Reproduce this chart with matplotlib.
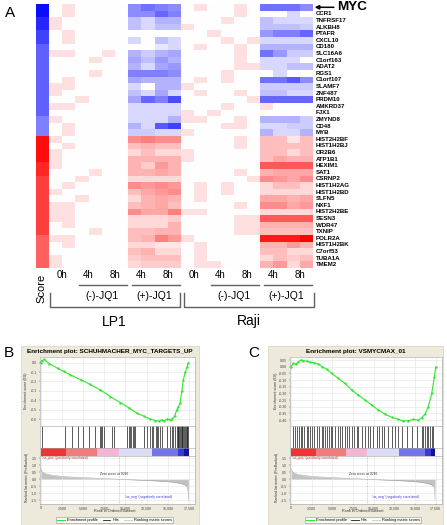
import numpy as np
import matplotlib
matplotlib.use("Agg")
import matplotlib.pyplot as plt
from matplotlib.colors import LinearSegmentedColormap
from matplotlib.transforms import blended_transform_factory
from matplotlib.lines import Line2D
from matplotlib.patches import Rectangle

plt.rcParams['font.family'] = ['Liberation Sans', 'DejaVu Sans']

# ---------------- data: panel A heatmap ----------------
genes = ["MYC", "CCR1", "TNFRSF17", "ALKBH8", "PTAFR", "CXCL10", "CD180", "SLC16A6",
         "C1orf163", "ADAT2", "RGS1", "C1orf107", "SLAMF7", "ZNF487", "PRDM10", "AMKRD37",
         "FJX1", "ZMYND8", "CD48", "MYB",
         "HIST2H2BF", "HIST1H2BJ", "OR2B6", "ATP1B1", "HEXIM1", "SAT1", "CSRNP2",
         "HIST1H2AG", "HIST1H2BD", "SLFN5", "NXF1", "HIST2H2BE", "SESN3", "WDR47",
         "TXNIP", "POLR2A", "HIST1H2BK", "C7orf53", "TUBA1A", "TMEM2"]

score = [-95, -95, -85, -85, -75, -75, -62, -62, -62, -62, -62, -62, -62, -62, -62, -62, -62, -50, -50, -50,
         95, 95, 95, 95, 85, 85, 75, 75, 75, 75, 75, 75, 75, 75, 75, 62, 62, 62, 62, 62]

# columns: 0h 0h | (-)4h 4h | (-)8h 8h | (+)4h 4h | (+)8h 8h
lp1 = [
    [0, 12, 0, 0, 0, 0, -45, -55, -50, -45],
    [0, 12, 0, 0, 0, 0, -45, -45, -60, -50],
    [12, 0, 0, 0, 0, 0, -25, -15, -30, -30],
    [12, 0, 0, 0, 0, 0, -25, -15, -25, -25],
    [0, 12, 0, 0, 0, 0, 0, 0, 0, 0],
    [0, 12, 0, 0, 0, 0, -15, 0, -25, -15],
    [0, 0, 0, 0, 0, 0, 0, 0, -10, -15],
    [12, 12, 0, 0, 12, 0, -30, -20, -30, -35],
    [0, 0, 0, 12, 0, 0, -35, -25, -40, -30],
    [0, 0, 0, 0, 0, 0, -30, -15, -35, -40],
    [0, 0, 0, 12, 0, 0, -50, -50, -50, -45],
    [0, 12, 0, 0, 0, 0, -35, -30, -30, -30],
    [12, 12, 0, 0, 0, 0, -15, 0, -30, -30],
    [12, 0, 0, 0, 0, 0, -25, -15, -35, -15],
    [0, 0, 12, 0, 0, 0, -35, -60, -50, -70],
    [12, 12, 0, 0, 0, 0, -15, -15, -15, -15],
    [0, 0, 0, 0, 0, 0, -15, -15, -15, -15],
    [12, 0, 0, 0, 0, 0, -15, -15, -15, -30],
    [0, 12, 0, 0, 0, 0, -30, -15, -65, -75],
    [0, 12, 0, 0, 0, 0, -20, -20, -15, -15],
    [12, 0, 0, 0, 0, 0, 45, 50, 45, 45],
    [0, 12, 0, 0, 0, 0, 25, 30, 25, 25],
    [12, 0, 0, 0, 0, 0, 15, 25, 15, 15],
    [12, 0, 0, 0, 0, 0, 30, 30, 30, 30],
    [12, 0, 0, 0, 0, 0, 30, 20, 40, 30],
    [0, 0, 0, 12, 0, 0, 30, 30, 35, 30],
    [0, 0, 12, 0, 0, 0, 15, 15, 15, 15],
    [0, 12, 0, 0, 0, 0, 45, 40, 45, 40],
    [12, 0, 0, 0, 0, 0, 25, 35, 40, 45],
    [0, 0, 12, 0, 0, 0, 15, 30, 35, 30],
    [12, 12, 0, 0, 0, 0, 25, 30, 35, 25],
    [12, 12, 0, 0, 0, 0, 45, 35, 35, 50],
    [12, 12, 0, 0, 0, 0, 15, 15, 15, 20],
    [0, 12, 0, 0, 0, 0, 15, 15, 15, 30],
    [0, 0, 0, 12, 0, 0, 25, 25, 30, 30],
    [12, 12, 0, 0, 0, 0, 25, 30, 50, 40],
    [0, 12, 0, 0, 0, 0, 15, 15, 10, 10],
    [0, 0, 0, 0, 0, 0, 25, 30, 15, 15],
    [12, 0, 0, 0, 0, 0, 20, 25, 25, 25],
    [12, 0, 0, 0, 0, 0, 15, 20, 20, 20],
]
raji = [
    [0, 12, 0, 0, 12, 0, -55, -55, -55, -45],
    [0, 0, 0, 0, 12, 0, 0, 0, -15, 0],
    [0, 0, 0, 12, 0, 0, -25, -15, -15, -15],
    [12, 0, 0, 0, 0, 0, -25, -25, -25, -20],
    [0, 0, 12, 0, 0, 0, -40, -50, -50, -60],
    [0, 0, 0, 12, 0, 12, -15, -15, -15, -15],
    [0, 12, 0, 0, 12, 0, -30, -30, -30, -30],
    [0, 0, 0, 0, 12, 0, -55, -40, -20, -20],
    [0, 0, 0, 0, 12, 0, -15, -15, -15, 0],
    [0, 0, 0, 0, 12, 12, -15, -15, -25, -25],
    [0, 0, 0, 12, 0, 0, 0, -15, 0, 0],
    [0, 12, 0, 12, 0, 0, -55, -55, -65, -45],
    [12, 0, 0, 0, 0, 0, -20, -20, -20, -20],
    [0, 12, 0, 0, 12, 0, -25, -25, -15, -15],
    [0, 0, 0, 0, 0, 12, -60, -60, -60, -60],
    [0, 0, 0, 12, 0, 0, 12, 0, 0, 0],
    [12, 0, 12, 0, 0, 0, 0, 0, 0, 0],
    [12, 12, 0, 0, 12, 0, -30, -30, -30, -20],
    [0, 0, 0, 12, 12, 0, -15, -15, -20, -20],
    [12, 0, 0, 0, 0, 0, -30, -15, -15, -30],
    [0, 0, 0, 0, 12, 0, 25, 25, 10, 25],
    [0, 0, 0, 0, 12, 0, 25, 25, 25, 25],
    [12, 0, 0, 0, 0, 0, 25, 25, 15, 25],
    [12, 0, 0, 0, 0, 0, 25, 35, 30, 30],
    [0, 0, 0, 0, 0, 0, 65, 65, 65, 65],
    [0, 0, 0, 0, 12, 0, 30, 35, 35, 35],
    [0, 0, 0, 0, 0, 12, 45, 40, 35, 45],
    [0, 12, 0, 12, 0, 0, 15, 25, 25, 15],
    [0, 12, 0, 12, 0, 0, 15, 15, 15, 15],
    [0, 12, 0, 0, 0, 0, 35, 35, 30, 35],
    [0, 0, 0, 0, 12, 0, 45, 45, 35, 40],
    [12, 12, 0, 0, 0, 0, 15, 15, 15, 15],
    [0, 0, 0, 0, 12, 12, 65, 65, 65, 65],
    [0, 0, 0, 0, 12, 12, 30, 30, 30, 30],
    [0, 0, 0, 0, 12, 12, 25, 25, 25, 25],
    [12, 0, 0, 0, 0, 0, 90, 90, 90, 100],
    [0, 12, 0, 0, 0, 0, 30, 30, 40, 30],
    [0, 12, 0, 0, 0, 0, 25, 25, 15, 15],
    [0, 12, 0, 0, 0, 0, 15, 25, 20, 25],
    [0, 12, 12, 0, 0, 0, 30, 40, 15, 35],
]
time_labels = ["0h", "4h", "8h", "4h", "8h"]
treat_labels = ["(-)-JQ1", "(+)-JQ1"]
cell_lines = ["LP1", "Raji"]

# ---------------- data: GSEA panels B / C ----------------
xtick_vals = [0, 2500, 5000, 7500, 10000, 12500, 15000, 17500]
xtick_labs = ["0", "2,500", "5,000", "7,500", "10,000", "12,500", "15,000", "17,500"]
zero_cross = 9246

b_title = "Enrichment plot: SCHUHMACHER_MYC_TARGETS_UP"
b_es_rank = [0, 120, 400, 1000, 2000, 2740, 3500, 4700, 5800, 7050, 8200, 9400, 10400, 11350,
             12200, 12920, 13500, 13900, 14300, 14600, 14880, 15200, 15460, 15800, 16050, 16250,
             16440, 16650, 16830, 17050, 17250, 17420]
b_es = [0.0, 0.02, 0.035, -0.01, -0.06, -0.094, -0.13, -0.18, -0.23, -0.29, -0.36, -0.425, -0.48,
        -0.537, -0.57, -0.6, -0.615, -0.62, -0.61, -0.62, -0.6, -0.605, -0.6, -0.57, -0.5, -0.47,
        -0.43, -0.3, -0.18, -0.1, -0.05, 0.0]
b_hits = [117, 2854, 3722, 4380, 4967, 5672, 6376, 6963, 7162, 7245, 7433, 8418, 8690, 10180,
          10368, 10568, 10685, 10838, 10955, 11155, 12131, 12524, 12916, 13115, 13303, 13585,
          13702, 13890, 14092, 14290, 14876, 15264, 15463, 15663, 15856, 16055, 16150, 16252,
          16350, 16443, 16550, 16643, 16700, 16842, 16950, 17029, 17100, 17225, 17300, 17380]
b_es_ticks = [0.0, -0.1, -0.2, -0.3, -0.4, -0.5, -0.6]

c_title = "Enrichment plot: VSMYCMAX_01"
c_es_rank = [0, 282, 565, 887, 1210, 1492, 1895, 2298, 2822, 3306, 3790, 4314, 4919, 5725, 6532,
             7338, 8145, 8951, 9757, 10564, 11370, 12176, 12983, 13588, 14193, 14798, 15403,
             15806, 16209, 16612, 17016, 17338, 17500]
c_es = [0.0, 0.025, 0.018, 0.0375, 0.05, 0.045, 0.0425, 0.035, 0.03, 0.02, 0.0, -0.02, -0.05,
        -0.0875, -0.125, -0.175, -0.2125, -0.25, -0.2875, -0.325, -0.355, -0.38, -0.395, -0.4075,
        -0.405, -0.395, -0.4, -0.3825, -0.355, -0.3, -0.2, -0.075, 0.0]
c_hits = [282, 484, 685, 968, 1210, 1371, 1613, 1895, 2097, 2298, 2580, 2822, 3105, 3387, 3709,
          3911, 4113, 4314, 4597, 4838, 5000, 5322, 5645, 5927, 6209, 6532, 6733, 7016, 7338,
          7661, 7943, 8145, 8548, 8951, 9274, 9596, 9959, 10362, 10644, 10967, 11290, 11773,
          12177, 12580, 12983, 13386, 13991, 14596, 15201, 15806, 16008, 16209, 16411, 16612,
          16814, 17016, 17217]
c_es_ticks = [0.05, 0.0, -0.05, -0.10, -0.15, -0.20, -0.25, -0.30, -0.35, -0.40]

rank_x = [0, 150, 400, 800, 1500, 2500, 3500, 5000, 6500, 8000, 9246, 10500, 12000, 13500,
          14800, 15800, 16500, 17000, 17300, 17380, 17420]
rank_y = [0.75, 0.55, 0.45, 0.36, 0.28, 0.21, 0.17, 0.12, 0.08, 0.04, 0.0, -0.03, -0.07, -0.11,
          -0.16, -0.22, -0.3, -0.4, -0.55, -0.9, -1.5]
rank_ticks = [1.5, 1.0, 0.5, 0.0, -0.5, -1.0, -1.5]

bar_edges = [0, 3000, 6600, 9200, 13100, 16200, 16900, 17450]
bar_colors = ["#ee3535", "#f07c7c", "#f5b6d6", "#dcdcf7", "#7474e6", "#3a3ad0", "#12129c"]

# ---------------- layout helpers ----------------
W, H = 447, 525
fig = plt.figure(figsize=(W / 100, H / 100), dpi=100)


def px(l, t, r, b):
    return [l / W, 1 - b / H, (r - l) / W, (b - t) / H]


ov = fig.add_axes([0, 0, 1, 1])
ov.axis("off")

cmap = LinearSegmentedColormap.from_list("bwr_pure", ["#0000ff", "#ffffff", "#ff0000"])

# ---------------- panel A ----------------
ax_s = fig.add_axes(px(36, 4, 48.5, 268))
ax_s.imshow(np.array(score).reshape(-1, 1) / 100, cmap=cmap, vmin=-1, vmax=1,
            aspect="auto", interpolation="nearest")
ax_s.axis("off")

ax_h = fig.add_axes(px(49, 4, 313, 268))
data = np.hstack([np.array(lp1), np.array(raji)]) / 100
ax_h.imshow(data, cmap=cmap, vmin=-1, vmax=1, aspect="auto", interpolation="nearest")
ax_h.axis("off")

for i, g in enumerate(genes):
    if i == 0:
        continue
    ax_h.annotate(g, xy=(1, i), xycoords=("axes fraction", "data"), xytext=(2, 0),
                  textcoords="offset points", va="center", ha="left",
                  fontsize=4.4, fontweight="bold", annotation_clip=False)

ax_h.annotate("MYC", xy=(1, 0), xycoords=("axes fraction", "data"), xytext=(17.5, 0),
              textcoords="offset points", va="center", ha="left", fontsize=9.7,
              fontweight="bold", annotation_clip=False,
              arrowprops=dict(arrowstyle="-|>", color="black", lw=1.1, mutation_scale=6,
                              shrinkA=0.5, shrinkB=1.2, relpos=(0, 0.5)))

ov.text(10.5, 13, "A", fontsize=11, ha="center", va="center")
ov.text(41.5, 288, "Score", fontsize=8, rotation=90, ha="center", va="center")

bt = blended_transform_factory(ax_h.transData, ov.transData)
gray = "#606060"
for k, cl in enumerate(cell_lines):
    off = 10 * k
    for j, lab in enumerate(time_labels):
        ov.text(off + 2 * j + 0.5, 275.5, lab, transform=bt, fontsize=7, ha="center", va="center")
    for j, tl in enumerate(treat_labels):
        g0 = off + 1.5 + 4 * j
        ov.add_line(Line2D([g0 + 0.3, g0 + 3.9], [285, 285], transform=bt, color=gray, lw=1))
        ov.text(g0 + 2, 296, tl, transform=bt, fontsize=7.5, ha="center", va="center")
    x0 = off - 0.45 + 0.2 * k
    x1 = off + 9.4 + 0.15 * k
    ov.add_line(Line2D([x0, x0, x1, x1], [293, 306.5, 306.5, 293], transform=bt,
                       color=gray, lw=1))
    ov.text((x0 + x1) / 2, 321.5, cl, transform=bt, fontsize=10, ha="center", va="center")


# ---------------- panels B and C ----------------
def gsea(letter, letter_x, box_l, box_r, l, r, title, es_rank, es_val, es_lim, es_ticks,
         es_fmt, hits, xlim):
    ov.add_patch(Rectangle((box_l, 346), box_r - box_l, 178.5, facecolor="#edeadb",
                           edgecolor="#d6d2bf", lw=0.5))
    ov.text(letter_x, 353, letter, fontsize=11, ha="center", va="center")
    ov.text((box_l + box_r) / 2, 351, title, fontsize=4.6, fontweight="bold",
            ha="center", va="center")

    ax1 = fig.add_axes(px(l, 357, r, 425.5))
    ax1.plot(es_rank, es_val, color="#2ee62e", lw=0.8, marker=".", ms=1.3)
    ax1.set_xlim(xlim)
    ax1.set_ylim(es_lim)
    ax1.set_xticks(xtick_vals)
    ax1.set_yticks(es_ticks)
    ax1.set_yticklabels([es_fmt.format(v) for v in es_ticks])
    ax1.tick_params(axis="x", length=0, labelbottom=False)
    ax1.tick_params(axis="y", length=1, width=0.3, pad=1.2, labelsize=2.6, colors="#444")
    ax1.grid(True, color="#e4e4e4", lw=0.4)

    ax2 = fig.add_axes(px(l, 425.5, r, 448))
    ax2.vlines(hits, 0, 1, color="#1a1a1a", lw=0.5)
    ax2.set_xlim(xlim)
    ax2.set_ylim(0, 1)
    ax2.set_xticks([])
    ax2.set_yticks([])

    ax3 = fig.add_axes(px(l, 448, r, 455.5))
    segs = [(bar_edges[i], bar_edges[i + 1] - bar_edges[i]) for i in range(len(bar_colors))]
    ax3.broken_barh(segs, (0, 1), facecolors=bar_colors)
    ax3.set_xlim(xlim)
    ax3.set_ylim(0, 1)
    ax3.set_xticks([])
    ax3.set_yticks([])

    ax4 = fig.add_axes(px(l, 455.5, r, 503.5))
    ax4.fill_between(rank_x, rank_y, 0, color="#c2c2c2", lw=0)
    ax4.plot(rank_x, rank_y, color="#9a9a9a", lw=0.3)
    ax4.axvline(zero_cross, color="#888", lw=0.4, ls=":")
    ax4.set_xlim(xlim)
    ax4.set_ylim(-1.74, 1.71)
    ax4.set_xticks(xtick_vals)
    ax4.set_xticklabels(xtick_labs)
    ax4.set_yticks(rank_ticks)
    ax4.set_yticklabels(["{:.1f}".format(v) for v in rank_ticks])
    ax4.tick_params(length=1, width=0.3, pad=1.0, labelsize=2.6, colors="#444")
    ax4.grid(True, color="#e4e4e4", lw=0.4)
    ax4.text(100, 1.55, "'na_pos' (positively correlated)", color="#e03030", fontsize=2.4,
             ha="left", va="center")
    ax4.text(15500, -1.27, "'na_neg' (negatively correlated)", color="#3535dd", fontsize=2.4,
             ha="right", va="center")
    ax4.text(8700, 0.38, "Zero cross at 9246", color="#333", fontsize=2.4,
             ha="center", va="center")

    for a in (ax1, ax2, ax3, ax4):
        for s in a.spines.values():
            s.set_color("#a0a0a0")
            s.set_linewidth(0.4)

    lab_x = l - 14
    ov.text(lab_x, 391, "Enrichment score (ES)", rotation=90, fontsize=2.6,
            ha="center", va="center", color="#333")
    ov.text(lab_x + 1, 478, "Ranked list metric (PreRanked)", rotation=90, fontsize=2.5,
            ha="center", va="center", color="#333")
    ov.text((l + r) / 2 - 3, 511.5, "Rank in Ordered Dataset", fontsize=2.7,
            ha="center", va="center", color="#333")

    handles = [Line2D([], [], color="#2ee62e", lw=0.8),
               Line2D([], [], color="#1a1a1a", lw=0.6),
               Line2D([], [], color="#c8c8c8", lw=0.6)]
    leg = fig.legend(handles, ["Enrichment profile", "Hits", "Ranking metric scores"],
                     loc="center", bbox_to_anchor=(((l + r) / 2 - 3) / W, 1 - 520 / H),
                     ncol=3, fontsize=2.8, frameon=True, fancybox=False, handlelength=2,
                     borderpad=0.35, columnspacing=1.2, handletextpad=0.5)
    leg.get_frame().set_edgecolor("#777")
    leg.get_frame().set_linewidth(0.4)


gsea("B", 8.5, 21, 199, 40, 195, b_title, b_es_rank, b_es, (-0.668, 0.06), b_es_ticks,
     "{:.1f}", b_hits, (-80, 18200))
gsea("C", 254, 268, 443, 290, 442, c_title, c_es_rank, c_es, (-0.441, 0.073), c_es_ticks,
     "{:.2f}", c_hits, (-120, 18260))

ov.set_xlim(0, W)
ov.set_ylim(H, 0)

fig.savefig("out.png", dpi=100)
